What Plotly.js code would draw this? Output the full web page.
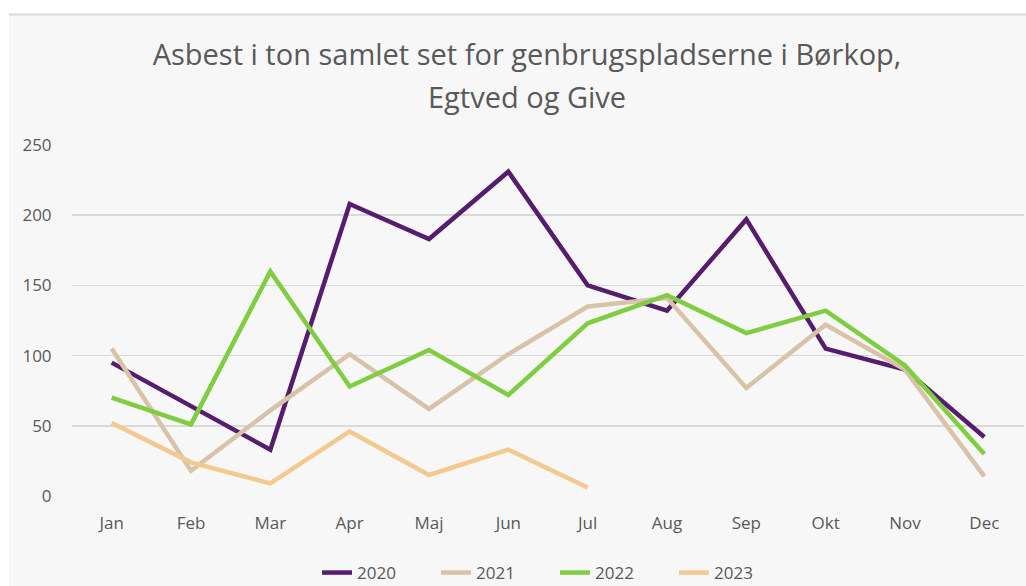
<!DOCTYPE html>
<html>
<head>
<meta charset="utf-8">
<script src="https://cdn.plot.ly/plotly-3.0.1.min.js"></script>
<style>html,body{margin:0;padding:0;background:#fff;}#chart{width:1026px;height:586px;}</style>
</head>
<body>
<div id="chart"></div>
<script>
const months = ["Jan","Feb","Mar","Apr","Maj","Jun","Jul","Aug","Sep","Okt","Nov","Dec"];
const v2020 = [95, 64, 33, 208, 183, 231, 150, 132, 197, 105, 90, 42];
const v2021 = [105, 18, 61, 101, 62, 101, 135, 141, 77, 122, 90, 14];
const v2022 = [70, 51, 160, 78, 104, 72, 123, 143, 116, 132, 93, 30];
const v2023 = [52, 24, 9, 46, 15, 33, 6];
const seriesNames = ["2020","2021","2022","2023"];
const seriesColors = ["#561d6e","#d8c3a8","#7fcd40","#f3c98f"];
const titleLine1 = "Asbest i ton samlet set for genbrugspladserne i Børkop,";
const titleLine2 = "Egtved og Give";

const font = "Open Sans, sans-serif";
const series = [v2020, v2021, v2022, v2023];
const traces = series.map((vals, i) => ({
  type: "scatter",
  mode: "lines",
  name: seriesNames[i],
  x: months.slice(0, vals.length),
  y: vals,
  line: {color: seriesColors[i], width: 4.5}
}));

const L = 72, R = 2, T = 145, B = 90, W = 1026, H = 586;
const pw = W - L - R, ph = H - T - B;
const px = p => (p - L) / pw;
const py = p => (H - B - p) / ph;

const layout = {
  width: W, height: H,
  margin: {l: L, r: R, t: T, b: B, autoexpand: false},
  paper_bgcolor: "#ffffff",
  plot_bgcolor: "rgba(0,0,0,0)",
  font: {family: font, color: "#595959"},
  title: {
    text: titleLine1,
    font: {family: font, size: 29, color: "#595959"},
    x: px(527), xref: "paper", xanchor: "center",
    y: 1 - 55 / H, yref: "container", yanchor: "middle"
  },
  annotations: [{
    text: titleLine2, showarrow: false,
    xref: "paper", yref: "paper",
    x: px(527), y: py(96), xanchor: "center", yanchor: "middle",
    font: {family: font, size: 29, color: "#595959"}
  }],
  shapes: [
    {type: "rect", xref: "paper", yref: "paper", layer: "below",
     x0: px(9), x1: px(1026), y0: py(586), y1: py(14),
     fillcolor: "#f7f7f7", line: {width: 0}},
    {type: "line", xref: "paper", yref: "paper", layer: "below",
     x0: px(9), x1: px(1026), y0: py(14.5), y1: py(14.5),
     line: {color: "#d9d9d9", width: 2}}
  ],
  xaxis: {
    type: "category",
    range: [-0.5, 11.5],
    showgrid: false, zeroline: false, showline: false,
    ticks: "outside", ticklen: 12, tickcolor: "rgba(0,0,0,0)",
    tickfont: {family: font, size: 17, color: "#595959"},
    fixedrange: true
  },
  yaxis: {
    range: [0, 250],
    tickvals: [0, 50, 100, 150, 200, 250],
    showgrid: true, gridcolor: "#d9d9d9", gridwidth: 1.5,
    zeroline: false, showline: false,
    ticks: "outside", ticklen: 16, tickcolor: "rgba(0,0,0,0)",
    tickfont: {family: font, size: 17, color: "#595959"},
    fixedrange: true
  },
  showlegend: true,
  legend: {
    orientation: "h",
    x: px(555), xanchor: "center",
    y: py(573), yanchor: "middle",
    font: {family: font, size: 17, color: "#595959"},
    bgcolor: "rgba(0,0,0,0)",
    entrywidth: 74, entrywidthmode: "pixels"
  }
};

Plotly.newPlot("chart", traces, layout, {displayModeBar: false, staticPlot: true});
</script>
</body>
</html>
